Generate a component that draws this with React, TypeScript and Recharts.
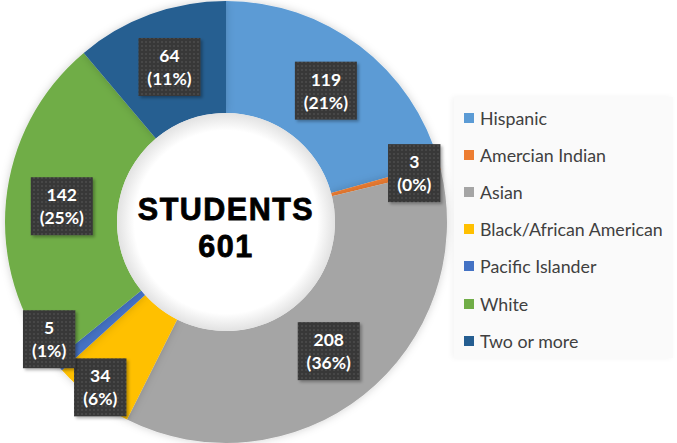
import { PieChart, Pie, Cell, Legend } from 'recharts'

const categories = [
  'Hispanic',
  'Amercian Indian',
  'Asian',
  'Black/African American',
  'Pacific Islander',
  'White',
  'Two or more',
]
const counts = [119, 3, 208, 34, 5, 142, 64]
const pctLabels = ['21%', '0%', '36%', '6%', '1%', '25%', '11%']
const centerTitle = 'STUDENTS'
const centerTotal = '601'

const COLORS = ['#5B9BD5', '#ED7D31', '#A5A5A5', '#FFC000', '#4472C4', '#70AD47', '#255E91']

// label tweaks for the thin slices (radius as share of outer radius, angle nudge in degrees)
const LABEL_NUDGE: Record<string, { r: number; da: number }> = {
  'Amercian Indian': { r: 0.88, da: 0 },
  'Black/African American': { r: 0.94, da: 0 },
  'Pacific Islander': { r: 0.96, da: -7 },
}

const data = categories.map((name, i) => ({
  name,
  value: counts[i],
  pct: pctLabels[i],
}))

const RAD = Math.PI / 180

// eslint-disable-next-line @typescript-eslint/no-explicit-any
function DataLabel(props: any) {
  const { cx, cy, midAngle, innerRadius, outerRadius, index } = props
  const d = data[index]
  const nudge = LABEL_NUDGE[d.name]
  const r = nudge ? outerRadius * nudge.r : (innerRadius + outerRadius) / 2
  const ang = midAngle + (nudge ? nudge.da : 0)
  const x = cx + r * Math.cos(-ang * RAD)
  const y = cy + r * Math.sin(-ang * RAD)
  const line1 = String(d.value)
  const line2 = `(${d.pct})`
  const chars = Math.max(line1.length, line2.length)
  const w = chars * 9.6 + 14
  const h = 58
  return (
    <g>
      <rect x={x - w / 2} y={y - h / 2} width={w} height={h} fill="url(#dots)" filter="url(#boxShadow)" />
      <text x={x} y={y - 5} textAnchor="middle" fill="#fff" fontFamily="Lato, 'Open Sans', sans-serif" fontWeight={700} fontSize={17.5}>
        {line1}
      </text>
      <text x={x} y={y + 18} textAnchor="middle" fill="#fff" fontFamily="Lato, 'Open Sans', sans-serif" fontWeight={700} fontSize={17.5}>
        {line2}
      </text>
    </g>
  )
}

// eslint-disable-next-line @typescript-eslint/no-explicit-any
function CenterLabel(props: any) {
  const { cx, cy } = props
  const textProps = {
    textAnchor: 'middle' as const,
    fill: '#000',
    stroke: '#000',
    strokeWidth: 0.8,
    fontFamily: "'Liberation Sans', Arial, sans-serif",
    fontWeight: 700,
    fontSize: 30.5,
    letterSpacing: 1.5,
  }
  return (
    <g>
      <text x={cx} y={cy - 2} {...textProps}>{centerTitle}</text>
      <text x={cx} y={cy + 35} {...textProps}>{centerTotal}</text>
    </g>
  )
}

function LegendBox() {
  return (
    <div style={{
      width: 219,
      height: 261,
      background: '#fafafa',
      boxShadow: '-2px 0 6px rgba(0,0,0,0.05)',
      paddingTop: 2,
      boxSizing: 'border-box',
    }}>
      {data.map((d, i) => (
        <div key={d.name} style={{ display: 'flex', alignItems: 'center', height: 37.2, paddingLeft: 10 }}>
          <span style={{ width: 10, height: 10, background: COLORS[i], marginRight: 6, flexShrink: 0 }} />
          <span style={{ fontFamily: "Lato, 'Open Sans', sans-serif", fontSize: 17.8, color: '#404040' }}>{d.name}</span>
        </div>
      ))}
    </div>
  )
}

export default function App() {
  return (
    <div style={{ position: 'absolute', left: 0, top: 0, width: 677, height: 443, background: '#fff' }}>
      <PieChart width={677} height={443} margin={{ top: 0, right: 0, bottom: 0, left: 0 }}>
        <defs>
          <pattern id="dots" width="4" height="4" patternUnits="userSpaceOnUse">
            <rect width="4" height="4" fill="#383838" />
            <circle cx="2" cy="2" r="0.9" fill="#4d4d4d" />
          </pattern>
          <radialGradient id="hole" cx="50%" cy="50%" r="50%">
            <stop offset="84%" stopColor="#ffffff" />
            <stop offset="100%" stopColor="#e2e2e2" />
          </radialGradient>
          <filter id="pieShadow" x="-10%" y="-10%" width="120%" height="120%">
            <feDropShadow dx="0" dy="0" stdDeviation="4" floodColor="#000" floodOpacity="0.18" />
          </filter>
          <filter id="boxShadow" x="-20%" y="-20%" width="150%" height="150%">
            <feDropShadow dx="2" dy="2" stdDeviation="1.5" floodColor="#000" floodOpacity="0.3" />
          </filter>
        </defs>
        <Pie
          data={data}
          dataKey="value"
          nameKey="name"
          cx={226}
          cy={222}
          innerRadius={109}
          outerRadius={221}
          startAngle={90}
          endAngle={-270}
          stroke="none"
          labelLine={false}
          label={DataLabel}
          isAnimationActive={false}
          style={{ filter: 'url(#pieShadow)' }}
        >
          {data.map((d, i) => (
            <Cell key={d.name} fill={COLORS[i]} />
          ))}
        </Pie>
        <Pie
          data={[{ name: centerTitle, value: 1 }]}
          dataKey="value"
          cx={226}
          cy={222}
          innerRadius={0}
          outerRadius={109}
          startAngle={90}
          endAngle={-270}
          stroke="none"
          labelLine={false}
          label={CenterLabel}
          isAnimationActive={false}
        >
          <Cell fill="url(#hole)" />
        </Pie>
        <Legend
          layout="vertical"
          content={<LegendBox />}
          wrapperStyle={{ left: 454, top: 97, width: 219, height: 261 }}
        />
      </PieChart>
    </div>
  )
}
